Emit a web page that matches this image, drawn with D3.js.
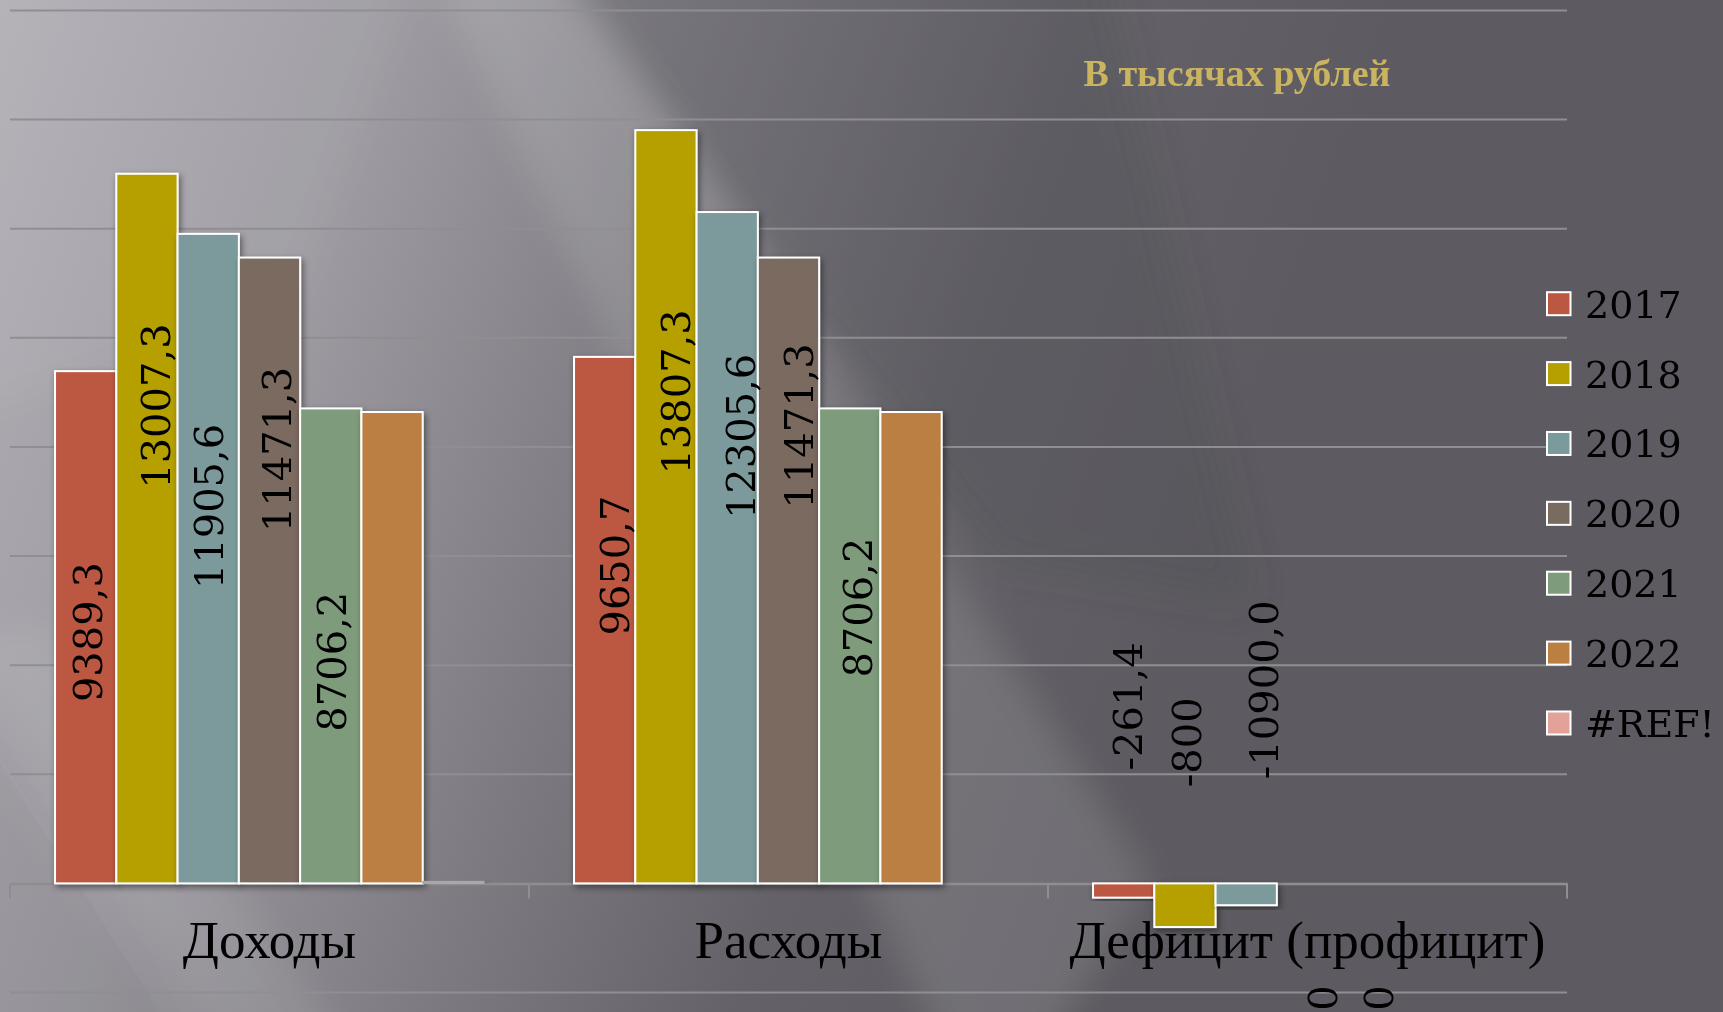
<!DOCTYPE html>
<html><head><meta charset="utf-8">
<script src="https://cdn.jsdelivr.net/npm/d3@7"></script>
<style>html,body{margin:0;padding:0;background:#5d5b61;overflow:hidden}</style>
</head><body><svg id="chart" width="1723" height="1012"></svg>
<script>
// ---- data ----
const categories = ["Доходы", "Расходы", "Дефицит (профицит)"];
const seriesNames = ["2017", "2018", "2019", "2020", "2021", "2022", "#REF!"];
const values2017 = [9389.3, 9650.7, -261.4];
const values2018 = [13007.3, 13807.3, -800];
const values2019 = [11905.6, 12305.6, -400];
const values2020 = [11471.3, 11471.3, null];
const values2021 = [8706.2, 8706.2, null];
const values2022 = [8640, 8640, null];
const valuesREF  = [0, null, null];
const labels2017 = ["9389,3", "9650,7", "-261,4"];
const labels2018 = ["13007,3", "13807,3", "-800"];
const labels2019 = ["11905,6", "12305,6", "-10900,0"];
const labels2020 = ["11471,3", "11471,3", "0"];
const labels2021 = ["8706,2", "8706,2", "0"];
const labels2022 = [null, null, null];
const labelsREF  = [null, null, null];
const yTickValues = [-2000, 0, 2000, 4000, 6000, 8000, 10000, 12000, 14000, 16000];
const titleText = "В тысячах рублей";

// label placement (value at label centre, horizontal shift in px) – layout only
const labelPlace = [
  [[4606, 2], [5826, 10], [3244, 4]],
  [[8749, 9], [9009, 10], [2587, 2]],
  [[6908, 0], [8193, 13], [3550, 17]],
  [[7954, 7], [8385, 10], [-2100, 15]],
  [[4064, 1], [5055, 8], [-2100, 10]],
  [[0, 0], [0, 0], [0, 0]],
  [[0, 0], [0, 0], [0, 0]]
];

const seriesValues = [values2017, values2018, values2019, values2020, values2021, values2022, valuesREF];
const seriesLabels = [labels2017, labels2018, labels2019, labels2020, labels2021, labels2022, labelsREF];
const colors = ["#bc5842", "#b5a000", "#7b9a9b", "#7a6b60", "#7e9b7c", "#bb7f42", "#e2a199"];

// ---- layout ----
const W = 1723, H = 1012;
const plotLeft = 10, plotRight = 1567;
const svg = d3.select("#chart");
const defs = svg.append("defs");

// background
const bg = defs.append("linearGradient").attr("id", "bg")
  .attr("gradientUnits", "userSpaceOnUse").attr("x1", 0).attr("y1", 0).attr("x2", 1250).attr("y2", 450);
[[0, "#b1afb5"], [0.3, "#9c9aa0"], [0.55, "#7e7c82"], [0.78, "#646268"], [1, "#5d5b61"]]
  .forEach(s => bg.append("stop").attr("offset", s[0]).attr("stop-color", s[1]));
const blur = defs.append("filter").attr("id", "blur").attr("x", -0.5).attr("y", -0.5).attr("width", 2).attr("height", 2);
blur.append("feGaussianBlur").attr("stdDeviation", 18);
const shadow = defs.append("filter").attr("id", "shadow").attr("x", -0.2).attr("y", -0.2).attr("width", 1.4).attr("height", 1.4);
shadow.append("feDropShadow").attr("dx", 2).attr("dy", 3).attr("stdDeviation", 3)
  .attr("flood-color", "#000").attr("flood-opacity", 0.45);

svg.append("rect").attr("width", W).attr("height", H).attr("fill", "url(#bg)");
const streaks = svg.append("g").attr("filter", "url(#blur)");
// darker region top-middle
streaks.append("polygon").attr("points", "540,-40 1100,-40 1250,600 1000,560")
  .attr("fill", "#4e4c52").attr("opacity", 0.3);
// lighter diagonal streaks
streaks.append("polygon").attr("points", "430,-40 560,-40 1150,880 1040,1060 950,1060")
  .attr("fill", "#ffffff").attr("opacity", 0.12);
streaks.append("polygon").attr("points", "-40,640 40,620 360,1060 230,1060")
  .attr("fill", "#ffffff").attr("opacity", 0.08);
streaks.append("polygon").attr("points", "-40,-40 420,-40 300,300 -40,420")
  .attr("fill", "#ffffff").attr("opacity", 0.05);
streaks.append("polygon").attr("points", "-40,700 -40,1060 200,1060")
  .attr("fill", "#000000").attr("opacity", 0.04);

// scales
const y = d3.scaleLinear().domain([-2000, 16000]).range([992.5, 10.5]);
const x0 = d3.scaleBand().domain(categories).range([plotLeft, plotRight]);
const bw = x0.bandwidth();
const barW = bw / (seriesNames.length + 1.47);
const x1 = d3.scaleBand().domain(seriesNames).range([barW * 0.735, bw - barW * 0.735]);

// gridlines
svg.append("g").selectAll("line").data(yTickValues.filter(v => v !== 0)).join("line")
  .attr("x1", plotLeft).attr("x2", plotRight)
  .attr("y1", d => y(d)).attr("y2", d => y(d))
  .attr("stroke", "#8f8e93").attr("stroke-width", 2);

// category axis
const axisG = svg.append("g").attr("transform", `translate(0,${y(0)})`);
axisG.call(d3.axisBottom(x0).tickSize(0).tickFormat(""));
axisG.select(".domain").attr("stroke", "#8e8d91").attr("stroke-width", 2.5);
const boundaries = [plotLeft].concat(categories.map(c => x0(c) + bw));
axisG.selectAll(".bound").data(boundaries).join("line").attr("class", "bound")
  .attr("x1", d => d).attr("x2", d => d).attr("y1", 0).attr("y2", 15)
  .attr("stroke", "#8e8d91").attr("stroke-width", 2);

// bars
const barData = [];
seriesNames.forEach((s, si) => categories.forEach((c, ci) => {
  const v = seriesValues[si][ci];
  if (v !== null && v !== undefined) barData.push({ s, si, c, ci, v });
}));
svg.append("g").selectAll("rect").data(barData).join("rect")
  .attr("x", d => x0(d.c) + x1(d.s))
  .attr("y", d => y(Math.max(0, d.v)) - (d.v === 0 ? 2 : 0))
  .attr("width", x1.bandwidth())
  .attr("height", d => d.v === 0 ? 2 : Math.abs(y(d.v) - y(0)))
  .attr("fill", d => d.v === 0 ? "#a4a3a7" : colors[d.si])
  .attr("stroke", d => d.v === 0 ? "#aeadb1" : "#ffffff")
  .attr("stroke-width", d => d.v === 0 ? 1 : 2)
  .attr("filter", "url(#shadow)");

// data labels
const labelData = [];
seriesNames.forEach((s, si) => categories.forEach((c, ci) => {
  const t = seriesLabels[si][ci];
  if (t) labelData.push({ s, si, c, ci, t, p: labelPlace[si][ci] });
}));
svg.append("g").selectAll("text").data(labelData).join("text")
  .attr("transform", d => `translate(${x0(d.c) + x1(d.s) + x1.bandwidth() / 2 + d.p[1]},${y(d.p[0])}) rotate(-90)`)
  .attr("text-anchor", "middle").attr("dy", "0.36em")
  .attr("font-family", "'DejaVu Serif', serif").attr("font-size", 40)
  .attr("fill", "#000").text(d => d.t);

// category labels
svg.append("g").selectAll("text").data(categories).join("text")
  .attr("x", d => x0(d) + bw / 2).attr("y", 958)
  .attr("text-anchor", "middle")
  .attr("font-family", "'Liberation Serif', serif").attr("font-size", 53)
  .attr("fill", "#000").text(d => d);

// title
svg.append("text").attr("x", 1237).attr("y", 86).attr("text-anchor", "middle")
  .attr("font-family", "'Liberation Serif', serif").attr("font-weight", "bold").attr("font-size", 38)
  .attr("fill", "#cbb460").text(titleText);

// legend
const legendY = d3.scalePoint().domain(seriesNames).range([303.7, 723]);
const lg = svg.append("g").selectAll("g").data(seriesNames).join("g")
  .attr("transform", d => `translate(1546,${legendY(d)})`);
lg.append("rect").attr("x", 1).attr("y", -11.5).attr("width", 23.5).attr("height", 23)
  .attr("fill", (d, i) => colors[i]).attr("stroke", "#fff").attr("stroke-width", 2);
lg.append("text").attr("x", 39).attr("y", 14)
  .attr("font-family", "'DejaVu Serif', serif").attr("font-size", 38)
  .attr("fill", "#000").text(d => d);
</script>
</body></html>
